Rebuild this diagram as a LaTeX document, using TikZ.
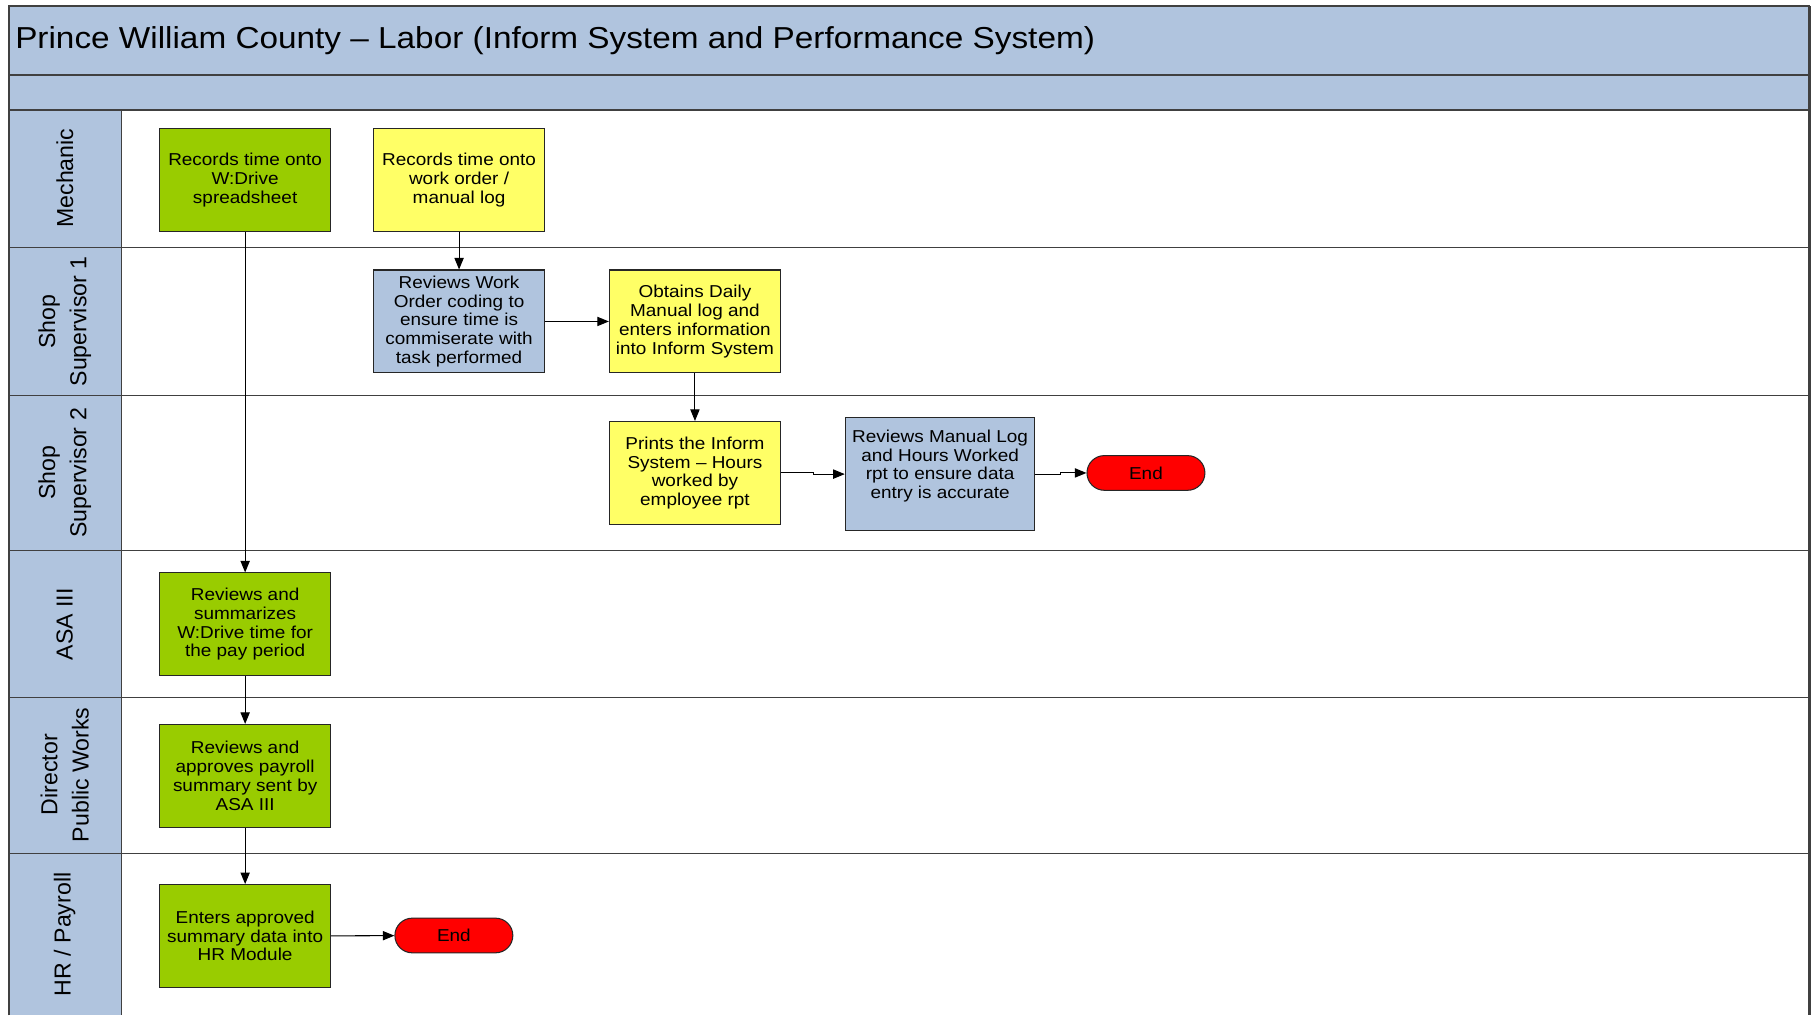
\documentclass[tikz,border=0pt]{standalone}
\usepackage{fontspec}
\setmainfont[FakeStretch=1.1]{Liberation Sans}
\newfontfamily\lanefont{Liberation Sans}
\usetikzlibrary{arrows.meta,shapes.misc}
\definecolor{laneblue}{RGB}{176,196,222}
\definecolor{taskgreen}{RGB}{153,204,0}
\definecolor{taskyellow}{RGB}{255,255,102}
\definecolor{endred}{RGB}{255,0,0}
\definecolor{rule}{RGB}{64,64,64}
\tikzset{
  task/.style={draw=black!85, line width=0.9pt, minimum width=148pt, minimum height=89pt, inner sep=0pt, align=center, font=\fontsize{14.9}{16.2}\selectfont},
  endbox/.style={draw=black!85, line width=0.9pt, fill=endred, rounded rectangle, minimum width=102pt, minimum height=30pt, inner sep=0pt, font=\fontsize{14.9}{16.2}\selectfont},
  lanelabel/.style={rotate=90, align=center, font=\lanefont\fontsize{20}{27}\selectfont},
  flow/.style={-{Triangle[length=10pt,width=8pt]}, line width=0.9pt},
  sep/.style={draw=rule, line width=1.3pt}
}
\begin{document}
\begin{tikzpicture}[x=1pt,y=-1pt]
    \useasboundingbox (0,0) rectangle (1567,878);
    \fill[laneblue] (8,5) rectangle (1565,95);
    \fill[laneblue] (8,95) rectangle (105,878);
    \draw[sep] (8,878) -- (8,5) -- (1565,5);
    \draw[draw=rule, line width=2.4pt] (1565,5) -- (1565,878);
    \draw[sep] (8,65) -- (1565,65);
    \draw[sep] (8,95) -- (1565,95);
    \draw[sep] (8,214) -- (1565,214);
    \draw[sep] (8,342) -- (1565,342);
    \draw[sep] (8,476) -- (1565,476);
    \draw[sep] (8,603) -- (1565,603);
    \draw[sep] (8,738) -- (1565,738);
    \draw[sep] (105,95) -- (105,878);
    \node[anchor=west, inner sep=0pt, font=\fontsize{26.2}{30}\selectfont] (title) at (13,35.5) {Prince William County -- Labor (Inform System and Performance System)};

    \node[lanelabel] (mechanic) at (56,154) {Mechanic};
    \node[lanelabel] (shopsup1) at (56,278) {Shop\\Supervisor 1};
    \node[lanelabel] (shopsup2) at (56,409) {Shop\\Supervisor 2};
    \node[lanelabel] (asa) at (56,540) {ASA III};
    \node[lanelabel] (dirpw) at (56,670) {Director\\Public Works};
    \node[lanelabel] (hrpay) at (56,808) {HR / Payroll};

    \node[task, fill=taskgreen] (wdrive) at (212,155.5) {Records time onto\\W:Drive\\spreadsheet};
    \node[task, fill=taskyellow] (workorder) at (397,155.5) {Records time onto\\work order /\\manual log};
    \node[task, fill=laneblue] (reviewwo) at (397,278) {Reviews Work\\Order coding to\\ensure time is\\commiserate with\\task performed};
    \node[task, fill=taskyellow] (obtains) at (601,278) {Obtains Daily\\Manual log and\\enters information\\into Inform System};
    \node[task, fill=taskyellow] (prints) at (601,409) {Prints the Inform\\System -- Hours\\worked by\\employee rpt};
    \node[task, fill=laneblue, minimum width=164pt, minimum height=98pt] (reviewlog) at (813,410) {Reviews Manual Log\\and Hours Worked\\rpt to ensure data\\entry is accurate\\[1pt]};
    \node[endbox] (endsup) at (991,409) {End};
    \node[task, fill=taskgreen] (asasum) at (212,540) {Reviews and\\summarizes\\W:Drive time for\\the pay period};
    \node[task, fill=taskgreen] (director) at (212,671) {Reviews and\\approves payroll\\summary sent by\\ASA III};
    \node[task, fill=taskgreen] (hrenter) at (212,809.5) {Enters approved\\summary data into\\HR Module};
    \node[endbox] (endhr) at (392.5,809) {End};

    \draw[flow] (wdrive) -- (asasum);
    \draw[flow] (workorder) -- (reviewwo);
    \draw[flow] (reviewwo) -- (obtains);
    \draw[flow] (obtains) -- (prints);
    \draw[flow] (prints.east) -- ++(28,0) |- (reviewlog.west);
    \draw[flow] (reviewlog.east) -- ++(22,0) |- (endsup.west);
    \draw[flow] (asasum) -- (director);
    \draw[flow] (director) -- (hrenter);
    \draw[flow] (hrenter) -- (endhr);
\end{tikzpicture}
\end{document}
